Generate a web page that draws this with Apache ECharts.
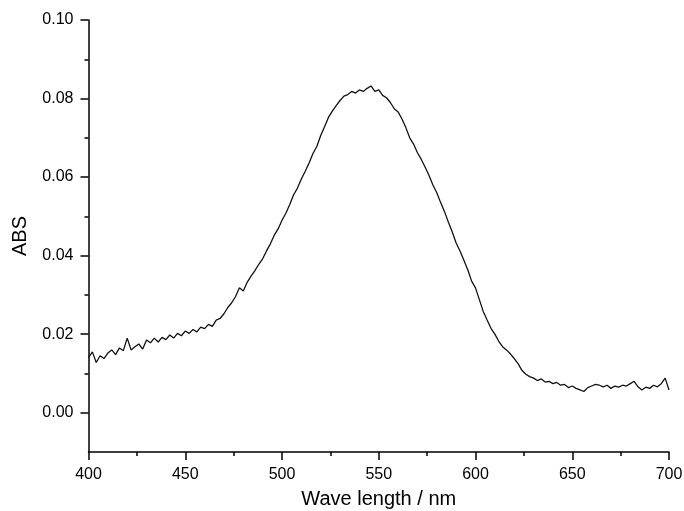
<!DOCTYPE html>
<html>
<head>
<meta charset="utf-8">
<script src="https://cdn.jsdelivr.net/npm/echarts@6/dist/echarts.min.js"></script>
<style>html,body{margin:0;padding:0;background:#fff}#c{width:684px;height:511px}</style>
</head>
<body>
<div id="c"></div>
<script>
const wavelengths = [400,402,404,406,408,410,412,414,416,418,420,422,424,426,428,430,432,434,436,438,440,442,444,446,448,450,452,454,456,458,460,462,464,466,468,470,472,474,476,478,480,482,484,486,488,490,492,494,496,498,500,502,504,506,508,510,512,514,516,518,520,522,524,526,528,530,532,534,536,538,540,542,544,546,548,550,552,554,556,558,560,562,564,566,568,570,572,574,576,578,580,582,584,586,588,590,592,594,596,598,600,602,604,606,608,610,612,614,616,618,620,622,624,626,628,630,632,634,636,638,640,642,644,646,648,650,652,654,656,658,660,662,664,666,668,670,672,674,676,678,680,682,684,686,688,690,692,694,696,698,700];
const absValues = [0.0140,0.0155,0.0128,0.0145,0.0138,0.0152,0.0160,0.0148,0.0165,0.0158,0.0190,0.0160,0.0168,0.0175,0.0162,0.0185,0.0178,0.0190,0.0180,0.0192,0.0186,0.0198,0.0190,0.0202,0.0196,0.0208,0.0202,0.0212,0.0206,0.0218,0.0214,0.0225,0.0220,0.0236,0.0240,0.0252,0.0268,0.0280,0.0296,0.0318,0.0310,0.0332,0.0348,0.0362,0.0378,0.0392,0.0412,0.0430,0.0452,0.0468,0.0490,0.0508,0.0530,0.0555,0.0572,0.0595,0.0615,0.0636,0.0660,0.0678,0.0706,0.0728,0.0752,0.0768,0.0782,0.0795,0.0806,0.0810,0.0818,0.0814,0.0822,0.0818,0.0826,0.0832,0.0818,0.0822,0.0808,0.0802,0.0790,0.0774,0.0766,0.0748,0.0726,0.0700,0.0684,0.0662,0.0645,0.0625,0.0604,0.0580,0.0560,0.0535,0.0512,0.0485,0.0460,0.0432,0.0412,0.0388,0.0364,0.0335,0.0318,0.0288,0.0258,0.0236,0.0215,0.0200,0.0182,0.0168,0.0160,0.0150,0.0138,0.0125,0.0108,0.0098,0.0092,0.0088,0.0082,0.0086,0.0078,0.0080,0.0074,0.0077,0.0070,0.0072,0.0064,0.0068,0.0062,0.0058,0.0054,0.0064,0.0068,0.0072,0.0070,0.0066,0.0070,0.0062,0.0068,0.0065,0.0070,0.0068,0.0074,0.0080,0.0066,0.0058,0.0065,0.0062,0.0070,0.0066,0.0074,0.0088,0.0058];
const yMajorTicks = [0.00,0.02,0.04,0.06,0.08,0.10];
const yMinorTicks = [0.01,0.03,0.05,0.07,0.09];
const xTitle = 'Wave length / nm';
const yTitle = 'ABS';

const chart = echarts.init(document.getElementById('c'));
const font = 'Arial, "Liberation Sans", sans-serif';
chart.setOption({
  animation: false,
  backgroundColor: '#fff',
  grid: {left: 88.5, right: 15, top: 20, bottom: 59, containLabel: false, outerBoundsMode: 'none'},
  xAxis: {
    type: 'value', min: 400, max: 700, interval: 50,
    name: xTitle, nameLocation: 'middle', nameGap: 37,
    nameTextStyle: {fontSize: 20, color: '#000', fontFamily: font},
    axisLine: {onZero: false, lineStyle: {color: '#000', width: 1.5}},
    axisTick: {show: true, inside: false, length: 8, lineStyle: {color: '#000', width: 1.5}},
    minorTick: {show: true, splitNumber: 2, length: 4, lineStyle: {color: '#000', width: 1.5}},
    axisLabel: {fontSize: 16, color: '#000', margin: 15, fontFamily: font},
    splitLine: {show: false}
  },
  yAxis: [{
    type: 'value', min: -0.01, max: 0.10,
    name: yTitle, nameLocation: 'middle', nameGap: 58, nameRotate: 90,
    nameTextStyle: {fontSize: 20, color: '#000', fontFamily: font},
    axisLine: {show: true, onZero: false, lineStyle: {color: '#000', width: 1.5}},
    axisTick: {show: true, inside: false, length: 8, customValues: yMajorTicks, lineStyle: {color: '#000', width: 1.5}},
    axisLabel: {fontSize: 16, color: '#000', margin: 15, fontFamily: font, customValues: yMajorTicks,
      formatter: v => v.toFixed(2)},
    splitLine: {show: false}
  }, {
    type: 'value', min: -0.01, max: 0.10, position: 'left',
    axisLine: {show: false},
    axisTick: {show: true, inside: false, length: 4, customValues: yMinorTicks, lineStyle: {color: '#000', width: 1.5}},
    axisLabel: {show: false},
    splitLine: {show: false}
  }],
  series: [{
    type: 'line',
    data: wavelengths.map((w, i) => [w, absValues[i]]),
    showSymbol: false,
    lineStyle: {color: '#111', width: 1.3},
    yAxisIndex: 0
  }]
});
</script>
</body>
</html>
